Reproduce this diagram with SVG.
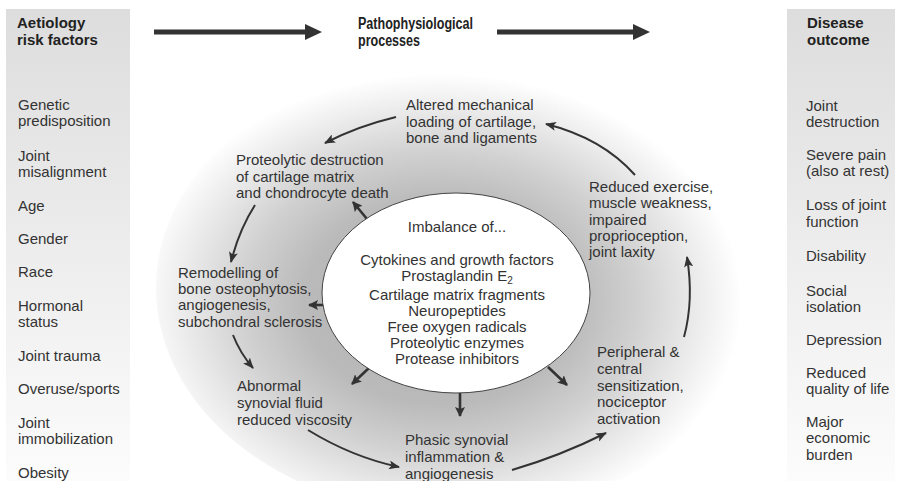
<svg xmlns="http://www.w3.org/2000/svg" width="903" height="481" viewBox="0 0 903 481">
<style>
text{font-family:"Liberation Sans",Arial,sans-serif;font-size:15px;fill:#333}
.h{font-weight:bold;fill:#222}
.c{text-anchor:middle}
.arc{fill:none;stroke:#333;stroke-width:2;marker-end:url(#ah)}
.rad{fill:none;stroke:#333;stroke-width:2.6;marker-end:url(#ah2)}
.big{stroke:#333;stroke-width:5}
.head{fill:#333}
</style>
<defs>
<linearGradient id="panel" x1="0" y1="0" x2="0" y2="1">
<stop offset="0" stop-color="#dddddd"/>
<stop offset="1" stop-color="#fcfcfc"/>
</linearGradient>
<radialGradient id="halo" cx="0.47" cy="0.53" r="0.5">
<stop offset="0" stop-color="#b0b0b0"/>
<stop offset="0.45" stop-color="#bababa"/>
<stop offset="0.65" stop-color="#d0d0d0"/>
<stop offset="0.85" stop-color="#ebebeb"/>
<stop offset="1" stop-color="#ffffff"/>
</radialGradient>
<marker id="ah" markerUnits="userSpaceOnUse" markerWidth="11" markerHeight="9" refX="10" refY="4.5" orient="auto">
<path d="M0,0 L11,4.5 L0,9 L2.5,4.5 z" fill="#333"/>
</marker>
<marker id="ah2" markerUnits="userSpaceOnUse" markerWidth="10" markerHeight="10" refX="9" refY="5" orient="auto">
<path d="M0,0 L10,5 L0,10 L2,5 z" fill="#333"/>
</marker>
</defs>

<rect width="903" height="481" fill="#ffffff"/>

<g id="panel-left">
<rect x="6" y="9" width="124" height="472" fill="url(#panel)"/>
<text class="h" x="17" y="28">Aetiology</text>
<text class="h" x="17" y="45">risk factors</text>
<text x="18" y="110">Genetic</text>
<text x="18" y="126">predisposition</text>
<text x="18" y="161">Joint</text>
<text x="18" y="177">misalignment</text>
<text x="18" y="211">Age</text>
<text x="18" y="244">Gender</text>
<text x="18" y="277">Race</text>
<text x="18" y="311">Hormonal</text>
<text x="18" y="327">status</text>
<text x="18" y="361">Joint trauma</text>
<text x="18" y="394">Overuse/sports</text>
<text x="18" y="428">Joint</text>
<text x="18" y="444">immobilization</text>
<text x="18" y="478">Obesity</text>
</g>

<g id="panel-right">
<rect x="787" y="9" width="108" height="472" fill="url(#panel)"/>
<text class="h" x="807" y="28">Disease</text>
<text class="h" x="807" y="45">outcome</text>
<text x="806" y="111">Joint</text>
<text x="806" y="127">destruction</text>
<text x="806" y="160">Severe pain</text>
<text x="806" y="176">(also at rest)</text>
<text x="806" y="210">Loss of joint</text>
<text x="806" y="227">function</text>
<text x="806" y="261">Disability</text>
<text x="806" y="296">Social</text>
<text x="806" y="312">isolation</text>
<text x="806" y="345">Depression</text>
<text x="806" y="378">Reduced</text>
<text x="806" y="394">quality of life</text>
<text x="806" y="427">Major</text>
<text x="806" y="443">economic</text>
<text x="806" y="460">burden</text>
</g>

<g id="title-center">
<text class="h" x="358" y="29" style="font-size:16px" textLength="115" lengthAdjust="spacingAndGlyphs">Pathophysiological</text>
<text class="h" x="358" y="46" style="font-size:16px" textLength="62" lengthAdjust="spacingAndGlyphs">processes</text>
</g>

<g id="flow-arrows">
<line class="big" x1="154" y1="32" x2="309" y2="32"/>
<polygon class="head" points="305,24 322,32 305,40"/>
<line class="big" x1="497" y1="32" x2="637" y2="32"/>
<polygon class="head" points="633,24 650,32 633,40"/>
</g>

<g id="halo-bg">
<ellipse cx="458" cy="288" rx="302" ry="228" fill="url(#halo)"/>
</g>

<g id="connectors">
<path class="arc" d="M396,117 Q358,126 325,143"/>
<path class="arc" d="M255,205 Q239,230 231,262"/>
<path class="arc" d="M233,335 Q240,353 253,368"/>
<path class="arc" d="M308,430 Q352,457 399,467"/>
<path class="arc" d="M512,470 Q560,456 606,433"/>
<path class="arc" d="M684,337 Q694,300 687,257"/>
<path class="arc" d="M635,175 Q602,138 546,124"/>
<path class="rad" d="M367,219 L353,202"/>
<path class="rad" d="M328,305 L309,305"/>
<path class="rad" d="M370,367 L352,384"/>
<path class="rad" d="M460,393 L460,416"/>
<path class="rad" d="M548,367 L567,385"/>
</g>

<g id="center">
<ellipse cx="456" cy="293" rx="134" ry="100" fill="#ffffff" stroke="#444" stroke-width="1"/>
<text class="c" x="457" y="232">Imbalance of...</text>
<text class="c" x="457" y="265">Cytokines and growth factors</text>
<text class="c" x="457" y="281">Prostaglandin E<tspan dy="2.5" style="font-size:10px">2</tspan></text>
<text class="c" x="457" y="300">Cartilage matrix fragments</text>
<text class="c" x="457" y="316">Neuropeptides</text>
<text class="c" x="457" y="332">Free oxygen radicals</text>
<text class="c" x="457" y="348">Proteolytic enzymes</text>
<text class="c" x="457" y="364">Protease inhibitors</text>
</g>

<g id="altered">
<text x="406" y="110">Altered mechanical</text>
<text x="406" y="127">loading of cartilage,</text>
<text x="406" y="143">bone and ligaments</text>
</g>

<g id="proteolytic">
<text x="236" y="165">Proteolytic destruction</text>
<text x="236" y="182">of cartilage matrix</text>
<text x="236" y="198">and chondrocyte death</text>
</g>

<g id="remodelling">
<text x="178" y="278">Remodelling of</text>
<text x="178" y="294">bone osteophytosis,</text>
<text x="178" y="310">angiogenesis,</text>
<text x="178" y="327">subchondral sclerosis</text>
</g>

<g id="abnormal">
<text x="237" y="391">Abnormal</text>
<text x="237" y="408">synovial fluid</text>
<text x="237" y="425">reduced viscosity</text>
</g>

<g id="phasic">
<text x="405" y="445">Phasic synovial</text>
<text x="405" y="462">inflammation &amp;</text>
<text x="405" y="479">angiogenesis</text>
</g>

<g id="peripheral">
<text x="597" y="357">Peripheral &amp;</text>
<text x="597" y="374">central</text>
<text x="597" y="391">sensitization,</text>
<text x="597" y="407">nociceptor</text>
<text x="597" y="424">activation</text>
</g>

<g id="reduced">
<text x="589" y="192">Reduced exercise,</text>
<text x="589" y="208">muscle weakness,</text>
<text x="589" y="225">impaired</text>
<text x="589" y="241">proprioception,</text>
<text x="589" y="257">joint laxity</text>
</g>
</svg>
